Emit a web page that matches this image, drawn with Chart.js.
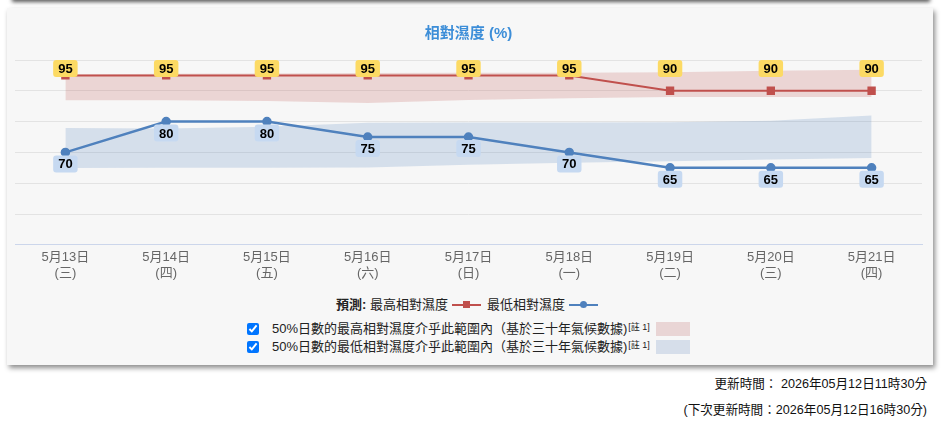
<!DOCTYPE html>
<html>
<head>
<meta charset="utf-8">
<script src="https://cdn.jsdelivr.net/npm/chart.js@4.4.1/dist/chart.umd.min.js"></script>
<style>
  body { margin: 0; background: #fff; font-family: "Liberation Sans", "Noto Sans CJK TC", sans-serif; width: 942px; height: 428px; overflow: hidden; position: relative; }
  .topbar { position: absolute; left: 12px; top: -20px; width: 918px; height: 20px; background: #f7f7f7; box-shadow: 0 2px 4px rgba(0,0,0,0.65); }
  .panel { position: absolute; left: 7px; top: 8px; width: 926px; height: 357px; background: #f7f7f7; box-shadow: 2px 3px 5px rgba(0,0,0,0.45); }
  .chart-box { position: absolute; left: 0; top: 0; width: 926px; height: 278px; }
  .legend1 { position: absolute; left: 0; top: 288px; width: 926px; text-align: center; font-size: 13px; line-height: 18px; color: #222; }
  .legend1 b { font-weight: bold; }
  .mk { display: inline-block; position: relative; width: 29px; height: 18px; vertical-align: top; margin: 0 6px 0 4px; }
  .mk i { position: absolute; left: 0; top: 8px; width: 29px; height: 2px; }
  .mk s { position: absolute; left: 11px; top: 5px; width: 7px; height: 7px; }
  .row { position: absolute; left: 240px; font-size: 13px; line-height: 18px; color: #222; display: flex; align-items: center; }
  .row input { margin: 0 13px 0 0; width: 12px; height: 12px; }
  .row sup { font-size: 9px; line-height: 9px; position: relative; top: -2px; margin-left: 1px; }
  .sw { display: inline-block; width: 34px; height: 14px; margin-left: 6px; }
  .foot { position: absolute; right: 15px; font-size: 12.6px; color: #111; text-align: right; }
</style>
</head>
<body>
<div class="topbar"></div>
<div class="panel">
  <div class="chart-box"><canvas id="rhChart"></canvas></div>
  <div class="legend1"><b>預測:</b> 最高相對濕度<span class="mk"><i style="background:#c0504d"></i><s style="background:#c0504d"></s></span>最低相對濕度<span class="mk"><i style="background:#4f81bd"></i><s style="background:#4f81bd;border-radius:50%"></s></span></div>
  <div class="row" style="top:312px"><input type="checkbox" checked>50%日數的最高相對濕度介乎此範圍內（基於三十年氣候數據)<sup>[註 1]</sup><span class="sw" style="background:#e9d5d5"></span></div>
  <div class="row" style="top:330px"><input type="checkbox" checked>50%日數的最低相對濕度介乎此範圍內（基於三十年氣候數據)<sup>[註 1]</sup><span class="sw" style="background:#d6deea"></span></div>
</div>
<div class="foot" style="top:373px">更新時間： 2026年05月12日11時30分</div>
<div class="foot" style="top:399px">(下次更新時間：2026年05月12日16時30分)</div>
<script>
const dates = ['5月13日', '5月14日', '5月15日', '5月16日', '5月17日', '5月18日', '5月19日', '5月20日', '5月21日'];
const weekdays = ['(三)', '(四)', '(五)', '(六)', '(日)', '(一)', '(二)', '(三)', '(四)'];
const maxRH = [95, 95, 95, 95, 95, 95, 90, 90, 90];
const minRH = [70, 80, 80, 75, 75, 70, 65, 65, 65];
// 50% 日數範圍 (三十年氣候數據)
const maxBandLow = [86.9, 86.9, 86.7, 86.0, 87.0, 87.6, 88.0, 88.0, 88.0];
const maxBandHigh = [95.3, 95.5, 95.6, 95.8, 95.9, 95.9, 96.0, 96.5, 96.8];
const minBandLow = [64.9, 65.0, 65.0, 65.1, 66.0, 66.6, 67.1, 67.7, 68.2];
const minBandHigh = [77.9, 77.8, 78.3, 79.6, 79.7, 79.7, 79.8, 80.3, 82.0];
const yTicks = [40, 50, 60, 70, 80, 90, 100];

const FONT = '"Liberation Sans", "Noto Sans CJK TC", sans-serif';

// 數值標籤 (最高: 置頂黃框, 最低: 點下方藍框)
const valueLabels = {
  id: 'valueLabels',
  afterDatasetsDraw(chart) {
    const ctx = chart.ctx;
    const area = chart.chartArea;
    ctx.save();
    ctx.font = 'bold 13px ' + FONT;
    ctx.textAlign = 'center';
    ctx.textBaseline = 'middle';
    chart.data.datasets.forEach((ds, i) => {
      if (!ds.labelBox) return;
      chart.getDatasetMeta(i).data.forEach((pt, j) => {
        const txt = String(ds.data[j]);
        const w = ctx.measureText(txt).width + 10;
        const h = 17;
        const top = ds.labelBox === 'top' ? area.top : pt.y + 3;
        ctx.fillStyle = ds.labelColor;
        ctx.beginPath();
        ctx.roundRect(pt.x - w / 2, top, w, h, 3);
        ctx.fill();
        ctx.fillStyle = '#000';
        ctx.fillText(txt, pt.x, top + h / 2 + 1);
      });
    });
    ctx.restore();
  }
};

new Chart(document.getElementById('rhChart'), {
  type: 'line',
  data: {
    labels: dates.map((d, i) => [d, weekdays[i]]),
    datasets: [
      { data: maxRH, borderColor: '#c0504d', backgroundColor: '#c0504d', borderWidth: 2,
        pointStyle: 'rect', pointRadius: 4.5, labelBox: 'top', labelColor: '#fcda64', order: 1 },
      { data: minRH, borderColor: '#4f81bd', backgroundColor: '#4f81bd', borderWidth: 2.5,
        pointRadius: 3.5, labelBox: 'below', labelColor: '#c6d9f1', order: 2 },
      { data: maxBandLow, borderWidth: 0, pointRadius: 0, fill: false, order: 3 },
      { data: maxBandHigh, borderWidth: 0, pointRadius: 0, fill: '-1', backgroundColor: 'rgba(192,80,77,0.2)', order: 3 },
      { data: minBandLow, borderWidth: 0, pointRadius: 0, fill: false, order: 4 },
      { data: minBandHigh, borderWidth: 0, pointRadius: 0, fill: '-1', backgroundColor: 'rgba(79,129,189,0.2)', order: 4 }
    ]
  },
  options: {
    responsive: true,
    maintainAspectRatio: false,
    animation: false,
    events: [],
    layout: { padding: { left: 8, right: 11, top: 0, bottom: 0 } },
    plugins: {
      legend: { display: false },
      tooltip: { enabled: false },
      title: {
        display: true,
        text: '相對濕度 (%)',
        color: '#3d8ed8',
        font: { family: FONT, size: 15, weight: 'bold' },
        padding: { top: 17, bottom: 17 }
      }
    },
    scales: {
      x: {
        offset: true,
        grid: { display: false, drawTicks: false },
        border: { color: '#ccd6eb', width: 1 },
        ticks: { color: '#666', font: { family: FONT, size: 13 }, padding: 5, maxRotation: 0, autoSkip: false }
      },
      y: {
        min: 40,
        max: 100,
        afterBuildTicks: axis => { axis.ticks = yTicks.map(v => ({ value: v })); },
        ticks: { display: false },
        grid: { color: '#e3e3e3', drawTicks: false },
        border: { display: false }
      }
    }
  },
  plugins: [valueLabels]
});
</script>
</body>
</html>
